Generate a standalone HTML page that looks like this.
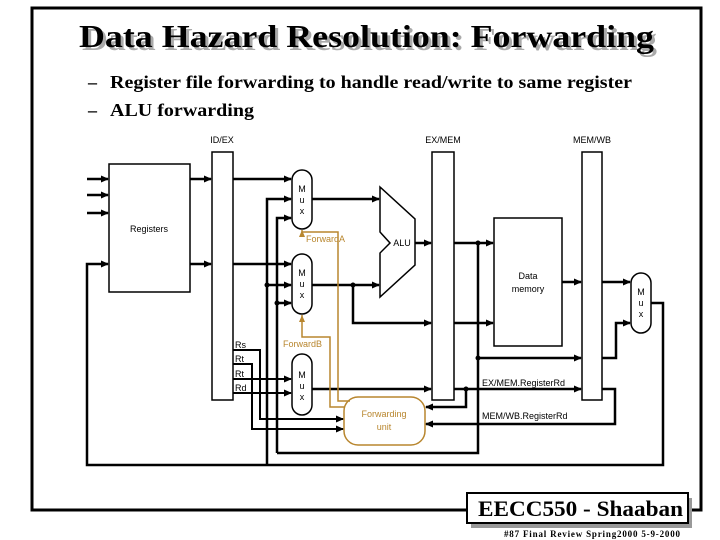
<!DOCTYPE html>
<html><head><style>
html,body{margin:0;padding:0;background:#fff;}
svg{display:block;}
</style></head><body>
<svg width="720" height="540" viewBox="0 0 720 540" xmlns="http://www.w3.org/2000/svg">
<defs>
<marker id="a" markerWidth="8" markerHeight="8" refX="7" refY="4" orient="auto" markerUnits="userSpaceOnUse"><path d="M0,0.5 L8,4 L0,7.5 z" fill="#000"/></marker>
<marker id="o" markerWidth="8" markerHeight="8" refX="7" refY="4" orient="auto" markerUnits="userSpaceOnUse"><path d="M0,1 L7,4 L0,7 z" fill="#b8862e"/></marker>
</defs>
<!-- frame -->
<path d="M467,510 H32 V8 H701 V510 H688" fill="none" stroke="#000" stroke-width="3"/>
<!-- title -->
<text x="82" y="50" textLength="575" lengthAdjust="spacingAndGlyphs" font-family="Liberation Serif,serif" font-size="32" font-weight="bold" fill="#aaa">Data Hazard Resolution: Forwarding</text>
<text x="79" y="47" textLength="575" lengthAdjust="spacingAndGlyphs" font-family="Liberation Serif,serif" font-size="32" font-weight="bold" fill="#000">Data Hazard Resolution: Forwarding</text>
<g font-family="Liberation Serif,serif" font-size="18" font-weight="bold">
<text x="88" y="88">–</text><text x="110" y="88" textLength="522" lengthAdjust="spacingAndGlyphs">Register file forwarding to handle read/write to same register</text>
<text x="88" y="116">–</text><text x="110" y="116" textLength="144" lengthAdjust="spacingAndGlyphs">ALU forwarding</text>
</g>
<!-- footer -->
<rect x="471" y="498" width="221" height="30" fill="#999"/>
<rect x="467" y="493" width="221" height="30" fill="#fff" stroke="#000" stroke-width="2"/>
<text x="478" y="516" textLength="205" lengthAdjust="spacingAndGlyphs" font-family="Liberation Serif,serif" font-size="22" font-weight="bold">EECC550 - Shaaban</text>
<text x="504" y="537" textLength="176" lengthAdjust="spacing" font-family="Liberation Serif,serif" font-size="9" font-weight="bold">#87   Final Review   Spring2000   5-9-2000</text>

<g font-family="Liberation Sans,sans-serif" font-size="9" fill="#000">
<text x="222" y="143" text-anchor="middle">ID/EX</text>
<text x="443" y="143" text-anchor="middle">EX/MEM</text>
<text x="592" y="143" text-anchor="middle">MEM/WB</text>
<g fill="#fff" stroke="#000" stroke-width="1.5">
<rect x="109" y="164" width="81" height="128"/>
<rect x="212" y="152" width="21" height="248"/>
<rect x="432" y="152" width="22" height="248"/>
<rect x="582" y="152" width="20" height="248"/>
<rect x="494" y="218" width="68" height="128"/>
<rect x="292" y="170" width="20" height="59" rx="10"/>
<rect x="292" y="254" width="20" height="60" rx="10"/>
<rect x="292" y="354" width="20" height="61" rx="10"/>
<rect x="631" y="273" width="20" height="60" rx="10"/>
<path d="M380,187 L415,219 L415,265 L380,297 L380,253 L390,243 L380,232 Z"/>
</g>
<rect x="344" y="397" width="81" height="48" rx="14" fill="#fff" stroke="#b8862e" stroke-width="1.5"/>
<text x="149" y="232" text-anchor="middle">Registers</text>
<text x="528" y="279" text-anchor="middle">Data</text>
<text x="528" y="292" text-anchor="middle">memory</text>
<text x="402" y="246" text-anchor="middle">ALU</text>
<g text-anchor="middle">
<text x="302" y="192">M</text><text x="302" y="203">u</text><text x="302" y="214">x</text>
<text x="302" y="276">M</text><text x="302" y="287">u</text><text x="302" y="298">x</text>
<text x="302" y="378">M</text><text x="302" y="389">u</text><text x="302" y="400">x</text>
<text x="641" y="295">M</text><text x="641" y="306">u</text><text x="641" y="317">x</text>
</g>
<text x="235" y="348">Rs</text><text x="235" y="362">Rt</text><text x="235" y="377">Rt</text><text x="235" y="391">Rd</text>
<text x="482" y="386">EX/MEM.RegisterRd</text>
<text x="482" y="419">MEM/WB.RegisterRd</text>
<g fill="#b8862e"><text x="306" y="242">ForwardA</text><text x="283" y="347">ForwardB</text>
<text x="384" y="417" text-anchor="middle">Forwarding</text><text x="384" y="430" text-anchor="middle">unit</text></g>
</g>

<g fill="none" stroke="#000" stroke-width="2.5">
<path d="M87,179 H108" marker-end="url(#a)"/>
<path d="M87,195 H108" marker-end="url(#a)"/>
<path d="M87,213 H108" marker-end="url(#a)"/>
<path d="M190,179 H211" marker-end="url(#a)"/>
<path d="M190,264 H211" marker-end="url(#a)"/>
<path d="M233,179 H291" marker-end="url(#a)"/>
<path d="M233,264 H291" marker-end="url(#a)"/>
<path d="M267,465 V199 H291" marker-end="url(#a)"/>
<path d="M277,453 V218 H291" marker-end="url(#a)"/>
<path d="M267,285 H291" marker-end="url(#a)"/>
<path d="M277,303 H291" marker-end="url(#a)"/>
<path d="M312,199 H379" marker-end="url(#a)"/>
<path d="M312,285 H379" marker-end="url(#a)"/>
<path d="M353,285 V323 H431" marker-end="url(#a)"/>
<path d="M415,243 H431" marker-end="url(#a)"/>
<path d="M454,243 H493" marker-end="url(#a)"/>
<path d="M454,323 H493" marker-end="url(#a)"/>
<path d="M478,243 V453 H277"/>
<path d="M478,358 H581" marker-end="url(#a)"/>
<path d="M562,282 H581" marker-end="url(#a)"/>
<path d="M602,282 H630" marker-end="url(#a)"/>
<path d="M602,358 H616 V323 H630" marker-end="url(#a)"/>
<path d="M651,303 H663 V465 H87 V264 H108" marker-end="url(#a)"/>
<path d="M233,350 H260 V419 H343" marker-end="url(#a)" stroke-width="2"/>
<path d="M233,364 H252 V429 H343" marker-end="url(#a)" stroke-width="2"/>
<path d="M233,379 H291" marker-end="url(#a)" stroke-width="2"/>
<path d="M233,393 H291" marker-end="url(#a)" stroke-width="2"/>
<path d="M312,389 H431" marker-end="url(#a)"/>
<path d="M454,389 H581" marker-end="url(#a)"/>
<path d="M466,389 V407 H426" marker-end="url(#a)"/>
<path d="M602,389 H615 V424 H426" marker-end="url(#a)"/>
</g>
<g fill="#000">
<circle cx="267" cy="285" r="2.5"/><circle cx="277" cy="303" r="2.5"/><circle cx="353" cy="285" r="2.5"/>
<circle cx="478" cy="243" r="2.5"/><circle cx="478" cy="358" r="2.5"/><circle cx="466" cy="389" r="2.5"/>
</g>
<g fill="none" stroke="#b8862e" stroke-width="1.5">
<path d="M350,401 H338 V232 H302 V230" marker-end="url(#o)"/>
<path d="M344,407 H330 V337 H302 V315" marker-end="url(#o)"/>
</g>
</svg>
</body></html>
